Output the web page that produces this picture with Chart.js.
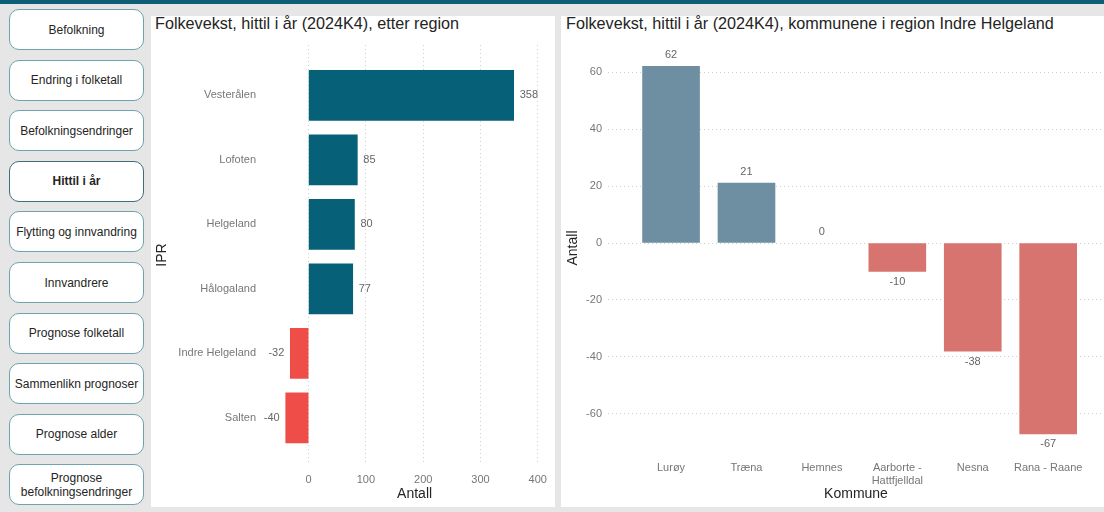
<!DOCTYPE html>
<html>
<head>
<meta charset="utf-8">
<script src="https://cdn.jsdelivr.net/npm/chart.js@4.4.1/dist/chart.umd.min.js"></script>
<style>
  html, body { margin: 0; padding: 0; }
  body { width: 1104px; height: 512px; background: #e6e6e6; position: relative; overflow: hidden;
         font-family: "Liberation Sans", Arial, sans-serif; }
  #topbar { position: absolute; left: 0; top: 0; width: 1104px; height: 4px; background: #0e5f75; }
  .navbtn { position: absolute; left: 9px; width: 133px; height: 39px; background: #fff;
            border: 1px solid #6fa3ad; border-radius: 10px; display: flex; align-items: center;
            justify-content: center; text-align: center; font-size: 12px; color: #252423; line-height: 14px; }
  .navbtn.active { font-weight: bold; border-color: #3f6f7a; }
  .panel { position: absolute; top: 16px; height: 491px; background: #fff; }
  .ptitle { position: absolute; top: 0; font-size: 16.2px; color: #252423; white-space: nowrap; }
  .cwrap { position: absolute; }
</style>
</head>
<body>
<div id="topbar"></div>
<div id="nav"></div>

<div class="panel" style="left:151px;width:404px;"></div>
<div class="panel" style="left:561px;width:543px;"></div>
<div class="ptitle" style="left:155px;top:14px;">Folkevekst, hittil i år (2024K4), etter region</div>
<div class="ptitle" style="left:566px;top:14px;">Folkevekst, hittil i år (2024K4), kommunene i region Indre Helgeland</div>

<div class="cwrap" style="left:151px;top:14px;width:404px;height:493px;"><canvas id="regionChart"></canvas></div>
<div class="cwrap" style="left:561px;top:14px;width:543px;height:493px;"><canvas id="kommuneChart"></canvas></div>

<script>
// Navigation buttons
const navItems = ["Befolkning", "Endring i folketall", "Befolkningsendringer", "Hittil i år",
  "Flytting og innvandring", "Innvandrere", "Prognose folketall", "Sammenlikn prognoser",
  "Prognose alder", "Prognose befolkningsendringer"];
const activeNav = "Hittil i år";

// Left chart: folkevekst per region
const regions = ["Vesterålen", "Lofoten", "Helgeland", "Hålogaland", "Indre Helgeland", "Salten"];
const regionValues = [358, 85, 80, 77, -32, -40];
const regionTicks = [0, 100, 200, 300, 400];

// Right chart: kommunene i Indre Helgeland
const kommuner = ["Lurøy", "Træna", "Hemnes", ["Aarborte -", "Hattfjelldal"], "Nesna", "Rana - Raane"];
const kommuneValues = [62, 21, 0, -10, -38, -67];
const kommuneTicks = [-60, -40, -20, 0, 20, 40, 60];

const FONT = "'Liberation Sans', Arial, sans-serif";

// build nav
const nav = document.getElementById("nav");
navItems.forEach((name, i) => {
    const d = document.createElement("div");
    d.className = "navbtn" + (name === activeNav ? " active" : "");
    d.style.top = (9 + i * 50.6) + "px";
    d.textContent = name;
    if (name === "Prognose befolkningsendringer") d.innerHTML = "Prognose<br>befolkningsendringer";
    nav.appendChild(d);
});

// Draws the value next to each bar
const valueLabels = {
    id: "valueLabels",
    afterDatasetsDraw(chart) {
        const ctx = chart.ctx;
        const horizontal = chart.options.indexAxis === "y";
        const meta = chart.getDatasetMeta(0);
        ctx.save();
        ctx.font = "11px " + FONT;
        ctx.fillStyle = "#666666";
        meta.data.forEach((bar, i) => {
            const pt = chart.data.datasets[0].data[i];
            const v = horizontal ? pt.x : pt.y;
            if (horizontal) {
                ctx.textBaseline = "middle";
                if (v >= 0) { ctx.textAlign = "left"; ctx.fillText(v, bar.x + 6, bar.y); }
                else { ctx.textAlign = "right"; ctx.fillText(v, bar.x - 6, bar.y); }
            } else {
                ctx.textAlign = "center";
                if (v >= 0) { ctx.textBaseline = "bottom"; ctx.fillText(v, bar.x, bar.y - 6); }
                else { ctx.textBaseline = "top"; ctx.fillText(v, bar.x, bar.y + 5); }
            }
        });
        ctx.restore();
    }
};

// dotted grid lines (v4 takes the dash from border options)
const dottedGrid = { color: "#cfcfcf", lineWidth: 1, drawTicks: false };
const dottedBorder = { display: false, dash: [1, 3] };

new Chart(document.getElementById("regionChart"), {
    type: "bar",
    data: {
        datasets: [{
            data: regions.map((r, i) => ({ x: regionValues[i], y: i })),
            backgroundColor: regionValues.map(v => v >= 0 ? "#056078" : "#ef4e48"),
            barThickness: 50
        }]
    },
    options: {
        indexAxis: "y",
        responsive: true,
        maintainAspectRatio: false,
        animation: false,
        layout: { padding: { top: 31, right: 2, left: 0, bottom: 0 } },
        plugins: { legend: { display: false }, tooltip: { enabled: false } },
        scales: {
            x: {
                type: "linear", min: -50, max: 420,
                afterBuildTicks: s => { s.ticks = regionTicks.map(v => ({ value: v })); },
                afterFit: s => { s.height = 42; },
                grid: dottedGrid,
                border: dottedBorder,
                ticks: { color: "#777777", font: { size: 11, family: FONT }, padding: 8 },
                title: { display: true, text: "Antall", color: "#252423",
                         font: { size: 14, family: FONT }, padding: { top: 0, bottom: 4 } }
            },
            y: {
                type: "linear", min: -0.78, max: 5.73, reverse: true, offset: false,
                afterBuildTicks: s => { s.ticks = regions.map((r, i) => ({ value: i })); },
                afterFit: s => { s.width = 129; },
                grid: { display: false, drawTicks: false, offset: false },
                border: { display: false },
                ticks: { color: "#777777", font: { size: 11, family: FONT }, padding: 24,
                         callback: v => regions[v] },
                title: { display: true, text: "IPR", color: "#252423",
                         font: { size: 14, family: FONT }, padding: { top: 3, bottom: 0 } }
            }
        }
    },
    plugins: [valueLabels]
});

new Chart(document.getElementById("kommuneChart"), {
    type: "bar",
    data: {
        datasets: [{
            data: kommuner.map((k, i) => ({ x: i, y: kommuneValues[i] })),
            backgroundColor: kommuneValues.map(v => v > 0 ? "#6e8fa2" : (v < 0 ? "#d8746f" : "rgba(0,0,0,0)")),
            barThickness: 57
        }]
    },
    options: {
        responsive: true,
        maintainAspectRatio: false,
        animation: false,
        layout: { padding: { top: 31, right: 0, left: 0, bottom: 0 } },
        plugins: { legend: { display: false }, tooltip: { enabled: false } },
        scales: {
            x: {
                type: "linear", min: -0.836, max: 5.74, offset: false,
                afterBuildTicks: s => { s.ticks = kommuner.map((k, i) => ({ value: i })); },
                afterFit: s => { s.height = 56; },
                grid: { display: false, drawTicks: false, offset: false },
                border: { display: false },
                ticks: { color: "#777777", font: { size: 11, family: FONT }, padding: 10,
                         maxRotation: 0, autoSkip: false, callback: v => kommuner[v] },
                title: { display: true, text: "Kommune", color: "#252423",
                         font: { size: 14, family: FONT }, padding: { top: 0, bottom: 4 } }
            },
            y: {
                type: "linear", min: -73, max: 69.5,
                afterBuildTicks: s => { s.ticks = kommuneTicks.map(v => ({ value: v })); },
                afterFit: s => { s.width = 47; },
                grid: dottedGrid,
                border: dottedBorder,
                ticks: { color: "#777777", font: { size: 11, family: FONT }, padding: 6 },
                title: { display: true, text: "Antall", color: "#252423",
                         font: { size: 14, family: FONT }, padding: { top: 4, bottom: 0 } }
            }
        }
    },
    plugins: [valueLabels]
});
</script>
</body>
</html>
